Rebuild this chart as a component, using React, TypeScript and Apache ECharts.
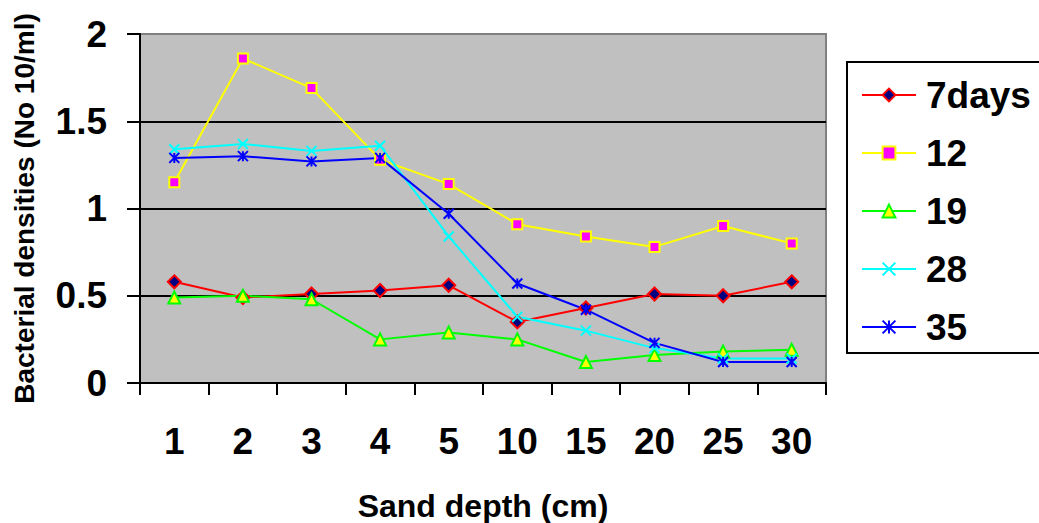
import React, { useEffect, useRef } from "react";
import * as echarts from "echarts";

const categories = ["1", "2", "3", "4", "5", "10", "15", "20", "25", "30"];
const seriesNames = ["7days", "12", "19", "28", "35"];
const days7 = [0.58, 0.49, 0.51, 0.53, 0.56, 0.35, 0.43, 0.51, 0.5, 0.58];
const days12 = [1.15, 1.86, 1.69, 1.28, 1.14, 0.91, 0.84, 0.78, 0.9, 0.8];
const days19 = [0.49, 0.5, 0.48, 0.25, 0.29, 0.25, 0.12, 0.16, 0.18, 0.19];
const days28 = [1.34, 1.37, 1.33, 1.36, 0.84, 0.38, 0.3, 0.2, 0.14, 0.14];
const days35 = [1.29, 1.3, 1.27, 1.29, 0.97, 0.57, 0.42, 0.23, 0.12, 0.12];
const yTicks = [0, 0.5, 1, 1.5, 2];

const FONT = "'Liberation Sans', Arial, Helvetica, sans-serif";

export default function App() {
  const ref = useRef<HTMLDivElement>(null);
  useEffect(() => {
    document.body.style.margin = "0";
    if (!ref.current) return;
    const chart = echarts.init(ref.current, null, { renderer: "svg" });
    const mk = (
      name: string,
      data: number[],
      color: string,
      symbol: string,
      size: number,
      fill: string,
      border: string,
      bw: number
    ) => ({
      name,
      type: "line",
      data,
      symbol,
      symbolSize: size,
      lineStyle: { color, width: 2 },
      itemStyle: { color: fill, borderColor: border, borderWidth: bw },
      emphasis: { disabled: true },
    });
    chart.setOption({
      animation: false,
      backgroundColor: "#ffffff",
      textStyle: { fontFamily: FONT },
      grid: {
        left: 140,
        top: 34,
        width: 686,
        height: 349,
        show: true,
        containLabel: false,
        outerBoundsMode: "none",
        backgroundColor: "#C0C0C0",
        borderColor: "#808080",
        borderWidth: 2,
      },
      legend: {
        orient: "vertical",
        left: 847,
        top: 62,
        padding: [13, 60, 6, 14],
        borderColor: "#000000",
        borderWidth: 2,
        itemWidth: 54,
        itemHeight: 16,
        itemGap: 18,
        data: seriesNames,
        textStyle: {
          fontFamily: FONT,
          fontWeight: "bold",
          fontSize: 37,
          color: "#000000",
          lineHeight: 40,
          padding: [0, 0, 0, 5],
        },
      },
      xAxis: {
        type: "category",
        data: categories,
        boundaryGap: true,
        name: "Sand depth (cm)",
        nameLocation: "middle",
        nameGap: 107,
        nameTextStyle: { fontFamily: FONT, fontWeight: "bold", fontSize: 32, color: "#000" },
        axisLine: { lineStyle: { color: "#000", width: 2 } },
        axisTick: { show: true, length: 12, lineStyle: { color: "#000", width: 2 } },
        axisLabel: { fontFamily: FONT, fontWeight: "bold", fontSize: 37, color: "#000", margin: 40 },
        splitLine: { show: false },
      },
      yAxis: {
        type: "value",
        min: yTicks[0],
        max: yTicks[yTicks.length - 1],
        interval: 0.5,
        name: "Bacterial densities (No 10/ml)",
        nameLocation: "middle",
        nameGap: 102,
        nameTextStyle: { fontFamily: FONT, fontWeight: "bold", fontSize: 28, color: "#000" },
        axisLine: { show: true, lineStyle: { color: "#000", width: 2 } },
        axisTick: { show: true, length: 13, lineStyle: { color: "#000", width: 2 } },
        axisLabel: { fontFamily: FONT, fontWeight: "bold", fontSize: 37, color: "#000", margin: 33 },
        splitLine: {
          show: true,
          lineStyle: { color: ["#000", "#000", "#000", "#000", "#808080"], width: 2 },
        },
      },
      series: [
        mk(seriesNames[0], days7, "#FF0000", "diamond", 13, "#000080", "#FF0000", 2),
        mk(seriesNames[1], days12, "#FFFF00", "rect", 10, "#FF00FF", "#FFFF00", 2),
        mk(seriesNames[2], days19, "#00FF00", "triangle", 12, "#FFFF00", "#00FF00", 2),
        mk(seriesNames[3], days28, "#00FFFF", "path://M0,0L10,10M10,0L0,10", 10, "none", "#00FFFF", 2),
        mk(seriesNames[4], days35, "#0000FF", "path://M0,0L10,10M10,0L0,10M5,0L5,10", 10, "none", "#0000FF", 2),
      ],
    });
    return () => chart.dispose();
  }, []);
  return <div ref={ref} style={{ width: 1039, height: 523 }} />;
}
